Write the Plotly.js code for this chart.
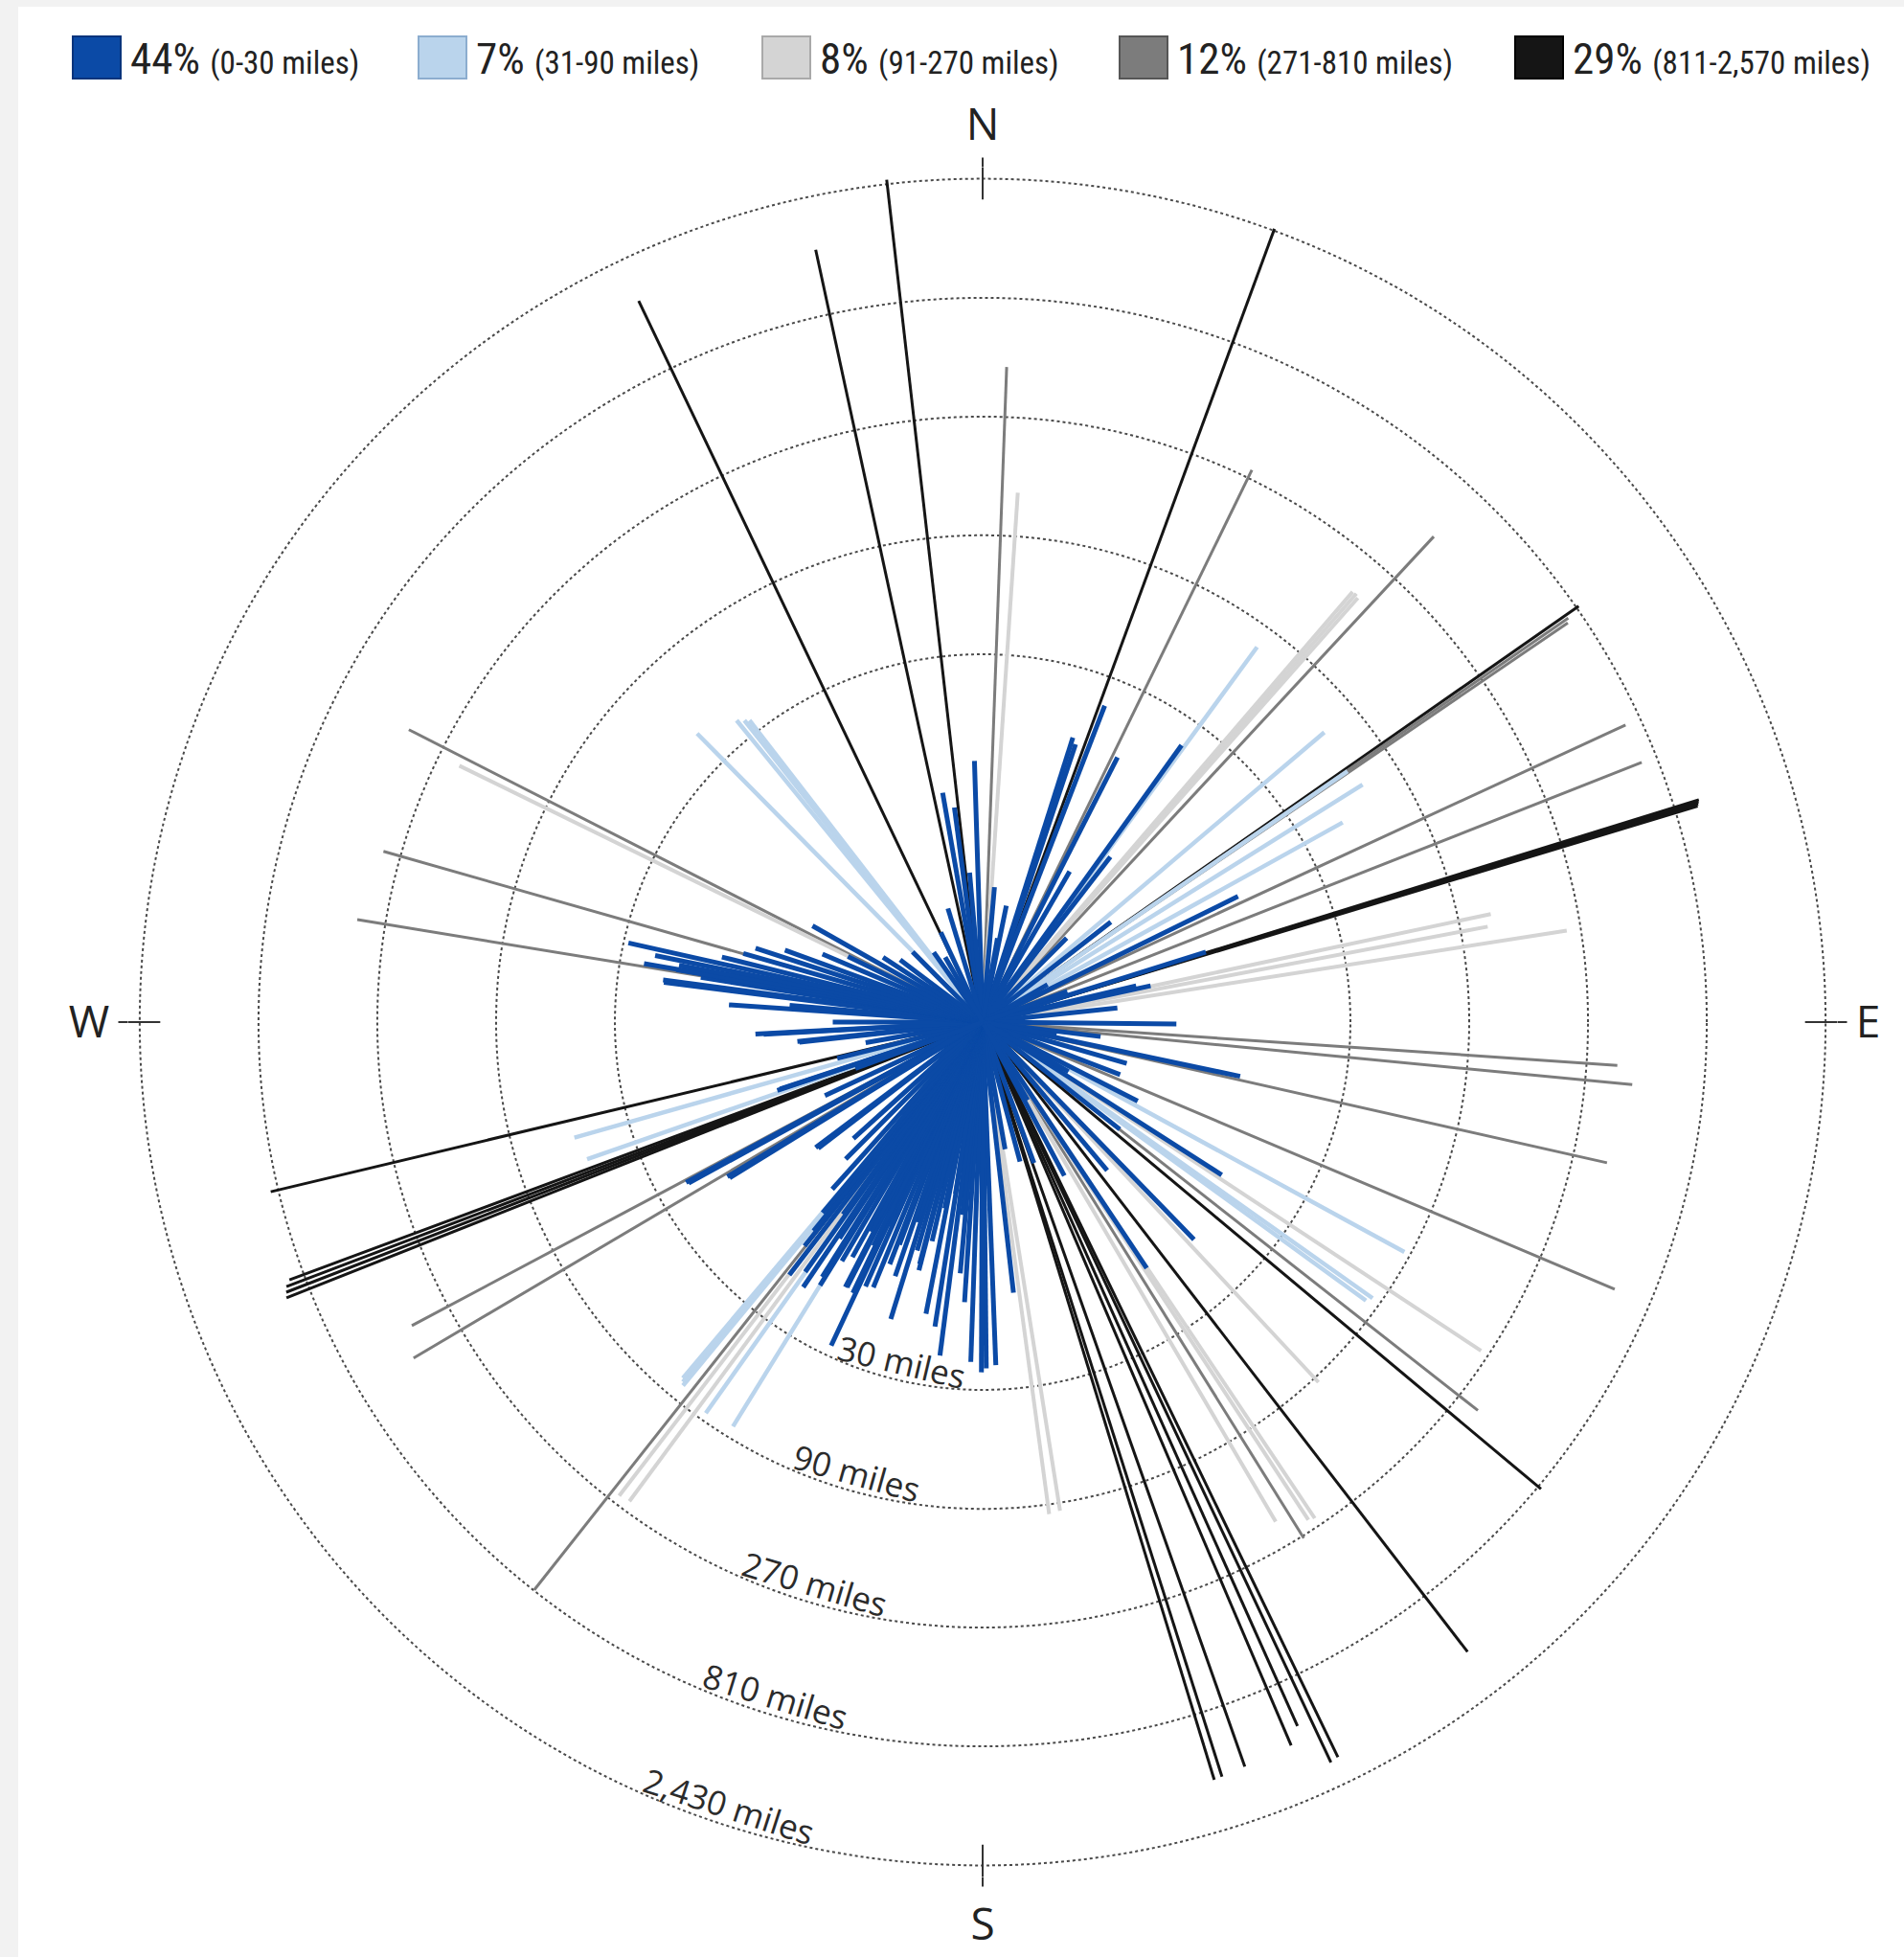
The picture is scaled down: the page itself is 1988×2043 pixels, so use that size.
<!DOCTYPE html>
<html>
<head>
<meta charset="utf-8">
<script src="https://cdn.plot.ly/plotly-3.0.1.min.js"></script>
<style>
  html, body { margin: 0; padding: 0; background: #f2f2f2; }
  #chart { width: 1988px; height: 2043px; }
</style>
</head>
<body>
<div id="chart"></div>
<script>
// ---------------- DATA (bearing in degrees clockwise from north, distance in miles) ----------------
const categories = ['0-30 miles', '31-90 miles', '91-270 miles', '271-810 miles', '811-2,570 miles'];
const categoryShare = ['44%', '7%', '8%', '12%', '29%'];

const blueBearing = [358.2, 350.1, 352.5, 355, 5, 11.5, 17.6, 18.5, 21.1, 27.0, 30, 35.7, 37.7, 45, 52, 63.8, 72.6, 76.7, 77.8, 84,
  90.6, 97, 101.9, 106, 110.9, 117, 122.6, 128, 135.8, 140, 146.3, 152, 160, 165, 170, 173.5, 177.8, 179.4, 180.2, 182,
  183.7, 185.1, 186, 187.3, 188.9, 189, 191, 191.5, 193, 194.4, 194.6, 196, 197.2, 198, 199, 200.5, 201, 202.4, 203.9, 204,
  205.1, 205.6, 206, 207.1, 207.4, 208, 209, 210.5, 211.7, 212.2, 213.5, 214.1, 215.4, 216, 217.4, 218.5, 219, 220, 222, 225,
  228, 232.5, 233.1, 238.4, 238.8, 241.3, 241.6, 245, 251.6, 251.7, 256, 260, 263.7, 264.0, 266.8, 267.0, 270, 273.9, 275, 277.1,
  277.5, 279, 279.2, 279.7, 279.8, 280.6, 281.5, 282.6, 284, 286, 288.0, 290, 293, 296, 299.5, 303, 307, 315, 325, 335,
  343, 10, 60, 70, 100, 120, 150, 240, 250, 330];
const blueMiles = [11.2, 8.6, 7.4, 4.0, 3.5, 3.0, 15.8, 15.0, 23.0, 15.6, 5.0, 23.4, 6.9, 3.0, 4.5, 13.9, 8.7, 4.3, 4.9, 3.5,
  6.0, 3.0, 11.4, 4.0, 3.9, 5.0, 13.8, 5.0, 16.5, 6.0, 15.4, 5.0, 4.0, 3.8, 3.3, 12.4, 23.9, 24.6, 25.5, 23.2,
  13.4, 10.3, 6.0, 22.4, 17.3, 5.0, 15.6, 5.8, 8.0, 10.7, 10.1, 9.0, 17.7, 7.0, 12.0, 9.0, 11.0, 14.2, 14.5, 8.0,
  27.2, 16.1, 10.0, 15.7, 15.8, 9.0, 12.0, 13.0, 17.5, 16.2, 11.0, 19.3, 17.0, 9.0, 19.0, 14.1, 12.0, 10.0, 8.0, 6.0,
  5.0, 6.8, 6.9, 15.6, 15.8, 22.2, 22.6, 5.0, 7.4, 7.2, 4.0, 3.0, 5.5, 5.6, 7.6, 8.2, 4.0, 10.5, 6.0, 19.5,
  19.7, 14.0, 13.2, 17.7, 24.0, 17.4, 22.0, 28.7, 12.0, 10.0, 9.1, 7.0, 5.0, 4.0, 6.1, 3.0, 2.6, 2.5, 2.2, 2.5,
  3.0, 2.2, 2.0, 2.3, 2.0, 2.5, 2.3, 2.5, 3.5, 2.0];

const lightBlueBearing = [315.3, 320.8, 321.7, 322.3, 36.2, 49.7, 55.5, 58.0, 61, 118.6, 125.3, 126.0, 211.7, 215.3, 219.5, 219.8, 220.1, 250.9, 254.2];
const lightBlueMiles   = [42.7, 36.6, 35, 34, 73.5, 63, 60, 63, 45, 85, 83, 80, 81, 84, 78, 76, 74, 48, 50.6];

const lightGrayBearing = [296.1, 3.8, 40.7, 41.1, 41.5, 78.0, 79.3, 81.1, 123.4, 137.0, 146.2, 146.8, 149.6, 171.0, 172.3, 216.4, 217.5];
const lightGrayMiles   = [219, 135, 190, 192, 188, 122, 116, 237, 250, 95, 250, 245, 212, 97, 98.6, 246, 250];

const grayBearing = [2.1, 26.0, 42.9, 55.4, 55.7, 65.2, 68.5, 93.9, 95.5, 102.7, 112.9, 128.1, 148.1, 218.3, 239.45, 242.0, 279.3, 285.9, 297.0];
const grayMiles   = [429, 293, 459, 720, 700, 699, 700, 359, 418, 372, 570, 337, 276, 805, 451, 395, 351, 318, 386];

const blackBearing = [353.5, 347.8, 334.5, 20.2, 55.1, 72.75, 72.9, 73.05, 73.2, 129.9, 142.4, 154.2, 154.8, 155.9, 156.9, 160.6, 162.4, 163.0, 248.4, 248.8, 249.2, 249.6, 256.6];
const blackMiles   = [2540, 1490, 1618, 2480, 830, 1028, 1020, 1010, 1000, 838, 1556, 1900, 1930, 1250, 1440, 1480, 1510, 1520, 1017, 1000, 980, 935, 870];

const ringMiles  = [30, 90, 270, 810, 2430];
const ringLabels = ['30 miles', '90 miles', '270 miles', '810 miles', '2,430 miles'];
const compassBearing = [0, 90, 180, 270];
const compassLabels  = ['N', 'E', 'S', 'W'];

// ---------------- STYLE / LAYOUT ----------------
const W = 1988, H = 2043;
const P = { cx: 1026, cy: 1067, R: 892 };
const RMAX = 2700;
const colors  = ['#0b4aa6', '#bad4ec', '#d4d4d4', '#7c7c7c', '#151515'];
const borders = ['#07347c', '#8cadcf', '#a9a9a9', '#565656', '#000000'];
const widths  = [5, 4.5, 4, 3, 3];
const ringLabelBearing = [193.4, 195.6, 196.6, 197.1, 197.9];
const legendSwatchX = [76, 437, 796, 1169, 1582];

function spokes(bearings, miles, color, width) {
  const r = [], t = [];
  bearings.forEach((b, i) => { r.push(1, miles[i], null); t.push(b, b, null); });
  return { type: 'scatterpolar', mode: 'lines', r: r, theta: t,
           line: { color: color, width: width }, hoverinfo: 'skip', showlegend: false };
}

const traces = [
  spokes(blackBearing, blackMiles, colors[4], widths[4]),
  spokes(grayBearing, grayMiles, colors[3], widths[3]),
  spokes(lightGrayBearing, lightGrayMiles, colors[2], widths[2]),
  spokes(lightBlueBearing, lightBlueMiles, colors[1], widths[1]),
  spokes(blueBearing, blueMiles, colors[0], widths[0])
];
// inner halves of the compass ticks (outer halves are angular-axis ticks)
(function () {
  const r = [], t = [];
  compassBearing.forEach(b => { r.push(2010, RMAX, null); t.push(b, b, null); });
  traces.push({ type: 'scatterpolar', mode: 'lines', r: r, theta: t,
    line: { color: '#333', width: 2 }, hoverinfo: 'skip', showlegend: false });
})();

function pxRadius(miles) { return P.R * Math.log10(miles) / Math.log10(RMAX); }

const annotations = [];
ringMiles.forEach((m, i) => {
  const b = ringLabelBearing[i] * Math.PI / 180;
  const rr = pxRadius(m) - 20;
  const x = P.cx + rr * Math.sin(b);
  const y = P.cy - rr * Math.cos(b);
  annotations.push({ xref: 'paper', yref: 'paper', x: x / W, y: 1 - y / H,
    xanchor: 'center', yanchor: 'middle', showarrow: false, text: ringLabels[i],
    textangle: ringLabelBearing[i] - 180,
    font: { family: 'Open Sans, sans-serif', size: 35, color: '#2b2b2b' } });
});

const shapes = [
  { type: 'rect', xref: 'paper', yref: 'paper', x0: 19 / W, x1: 1, y0: 0, y1: 1 - 7 / H,
    fillcolor: '#ffffff', line: { width: 0 }, layer: 'below' }
];
const legendFont = '"Liberation Sans Narrow", "Arial Narrow", "Roboto Condensed", "DejaVu Sans Condensed", sans-serif';
categories.forEach((c, i) => {
  const x0 = legendSwatchX[i];
  shapes.push({ type: 'rect', xref: 'paper', yref: 'paper',
    x0: x0 / W, x1: (x0 + 50) / W, y0: 1 - 82 / H, y1: 1 - 38 / H,
    fillcolor: colors[i], line: { color: borders[i], width: 2 } });
  annotations.push({ xref: 'paper', yref: 'paper', x: (x0 + 58) / W, y: 1 - 62 / H,
    xanchor: 'left', yanchor: 'middle', showarrow: false,
    text: categoryShare[i] + ' <span style="font-size:33px">(' + c + ')</span>',
    font: { family: legendFont, size: 45, color: '#222' } });
});

const layout = {
  width: W, height: H,
  margin: { l: 0, r: 0, t: 0, b: 0 },
  paper_bgcolor: '#f2f2f2',
  showlegend: false,
  hovermode: false,
  polar: {
    domain: { x: [(P.cx - P.R) / W, (P.cx + P.R) / W], y: [1 - (P.cy + P.R) / H, 1 - (P.cy - P.R) / H] },
    bgcolor: '#ffffff',
    radialaxis: {
      type: 'log', range: [0, Math.log10(RMAX)],
      tickmode: 'array', tickvals: ringMiles,
      showticklabels: false, ticks: '', showline: false,
      showgrid: true, gridcolor: '#4a4a4a', griddash: 'dot', gridwidth: 2
    },
    angularaxis: {
      rotation: 90, direction: 'clockwise',
      tickmode: 'array', tickvals: compassBearing, ticktext: compassLabels,
      ticks: 'outside', ticklen: 10, tickwidth: 2, tickcolor: '#333',
      showgrid: false, showline: false,
      tickfont: { family: 'Open Sans, sans-serif', size: 46, color: '#222' }
    }
  },
  shapes: shapes,
  annotations: annotations
};

Plotly.newPlot('chart', traces, layout, { staticPlot: true, displayModeBar: false });
</script>
</body>
</html>
